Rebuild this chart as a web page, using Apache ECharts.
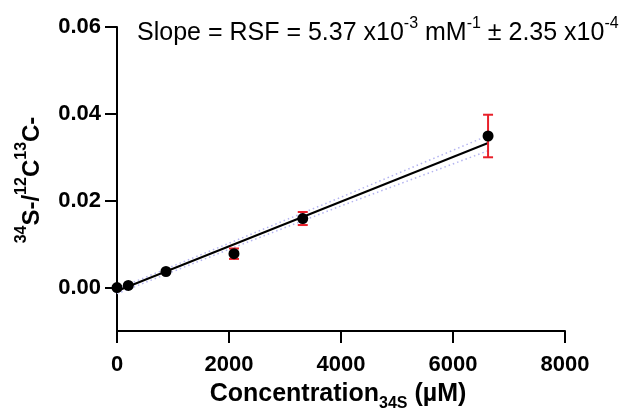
<!DOCTYPE html>
<html>
<head>
<meta charset="utf-8">
<script src="https://cdn.jsdelivr.net/npm/echarts@6/dist/echarts.min.js"></script>
<style>
html,body{margin:0;padding:0;background:#fff;}
#chart{width:633px;height:411px;}
</style>
</head>
<body>
<div id="chart"></div>
<script>
// Data
var concentration = [0, 202, 875, 2089, 3317, 6626];       // µM
var ratio = [0.0000, 0.0005, 0.0037, 0.0078, 0.0159, 0.0349];
var ratioErr = [0, 0, 0, 0.0012, 0.0015, 0.0049];
var fitX = [0, 6626];
var fitY = [-0.0008, 0.0333];
var bandX = [0, 2000, 4000, 6626];
var bandUpper = [-0.0003, 0.0102, 0.0208, 0.0350];
var bandLower = [-0.0014, 0.0088, 0.0188, 0.0315];
var xTicks = [0, 2000, 4000, 6000, 8000];
var yTicks = [0, 0.02, 0.04, 0.06];

function pairs(xs, ys) { return xs.map(function (x, i) { return [x, ys[i]]; }); }

var FONT = '"Liberation Sans", Arial, sans-serif';
var chart = echarts.init(document.getElementById('chart'), null, {renderer: 'canvas'});

var option = {
  backgroundColor: '#fff',
  animation: false,
  grid: {left: 117, right: 68, top: 27, bottom: 80, containLabel: false},
  xAxis: {
    type: 'value', min: 0, max: 8000, interval: 2000,
    axisLine: {show: true, onZero: false, lineStyle: {color: '#000', width: 2}},
    axisTick: {show: true, length: 12, customValues: xTicks, lineStyle: {color: '#000', width: 2}},
    axisLabel: {color: '#000', fontFamily: FONT, fontWeight: 'bold', fontSize: 22, margin: 23,
      customValues: xTicks, formatter: function (v) { return String(v); }},
    splitLine: {show: false}
  },
  yAxis: {
    type: 'value', min: -0.01, max: 0.06,
    axisLine: {show: true, onZero: false, lineStyle: {color: '#000', width: 2}},
    axisTick: {show: true, length: 12, customValues: yTicks, lineStyle: {color: '#000', width: 2}},
    axisLabel: {color: '#000', fontFamily: FONT, fontWeight: 'bold', fontSize: 22, margin: 16,
      customValues: yTicks, formatter: function (v) { return v.toFixed(2); }},
    splitLine: {show: false}
  },
  series: [
    {
      type: 'line', data: pairs(bandX, bandUpper), symbol: 'none', silent: true,
      lineStyle: {color: '#b4b4f0', width: 1.5, type: [1.5, 3]}, z: 1
    },
    {
      type: 'line', data: pairs(bandX, bandLower), symbol: 'none', silent: true,
      lineStyle: {color: '#b4b4f0', width: 1.5, type: [1.5, 3]}, z: 1
    },
    {
      type: 'line', data: pairs(fitX, fitY), symbol: 'none', silent: true,
      lineStyle: {color: '#000', width: 2}, z: 2
    },
    {
      type: 'custom', z: 3,
      data: concentration.map(function (x, i) { return [x, ratio[i], ratioErr[i]]; }),
      renderItem: function (params, api) {
        var x = api.value(0), y = api.value(1), e = api.value(2);
        if (!e) return null;
        var top = api.coord([x, y + e]);
        var bot = api.coord([x, y - e]);
        var hw = 5;
        var st = {stroke: '#e8202a', lineWidth: 2};
        return {
          type: 'group',
          children: [
            {type: 'line', shape: {x1: top[0], y1: top[1], x2: bot[0], y2: bot[1]}, style: st},
            {type: 'line', shape: {x1: top[0] - hw, y1: top[1], x2: top[0] + hw, y2: top[1]}, style: st},
            {type: 'line', shape: {x1: bot[0] - hw, y1: bot[1], x2: bot[0] + hw, y2: bot[1]}, style: st}
          ]
        };
      }
    },
    {
      type: 'scatter', data: pairs(concentration, ratio), symbol: 'circle', symbolSize: 11,
      itemStyle: {color: '#000', opacity: 1}, z: 4
    }
  ],
  graphic: [
    {
      type: 'text', left: 137, top: 16, z: 10,
      style: {
        text: '{n|Slope = RSF = 5.37 x10}{s|-3}{n| mM}{s|-1}{n| ± 2.35 x10}{s|-4}',
        rich: {
          n: {fontFamily: FONT, fontSize: 25, color: '#000', lineHeight: 30, verticalAlign: 'bottom'},
          s: {fontFamily: FONT, fontSize: 16, color: '#000', lineHeight: 16, verticalAlign: 'top'}
        }
      }
    },
    {
      type: 'text', x: 29, y: 180, rotation: Math.PI / 2, z: 10,
      style: {
        text: '{s|34}{n|S-/}{s|12}{n|C}{s|13}{n|C-}',
        align: 'center', verticalAlign: 'middle',
        rich: {
          n: {fontFamily: FONT, fontSize: 24, fontWeight: 'bold', color: '#000', lineHeight: 30, verticalAlign: 'bottom'},
          s: {fontFamily: FONT, fontSize: 16, fontWeight: 'bold', color: '#000', lineHeight: 16, verticalAlign: 'top'}
        }
      }
    },
    {
      type: 'text', x: 338, y: 397, z: 10,
      style: {
        text: '{n|Concentration}{b|34S}{n| (µM)}',
        align: 'center', verticalAlign: 'middle',
        rich: {
          n: {fontFamily: FONT, fontSize: 25, fontWeight: 'bold', color: '#000', lineHeight: 30, verticalAlign: 'top'},
          b: {fontFamily: FONT, fontSize: 16, fontWeight: 'bold', color: '#000', lineHeight: 16, verticalAlign: 'bottom'}
        }
      }
    }
  ]
};
chart.setOption(option);
</script>
</body>
</html>
